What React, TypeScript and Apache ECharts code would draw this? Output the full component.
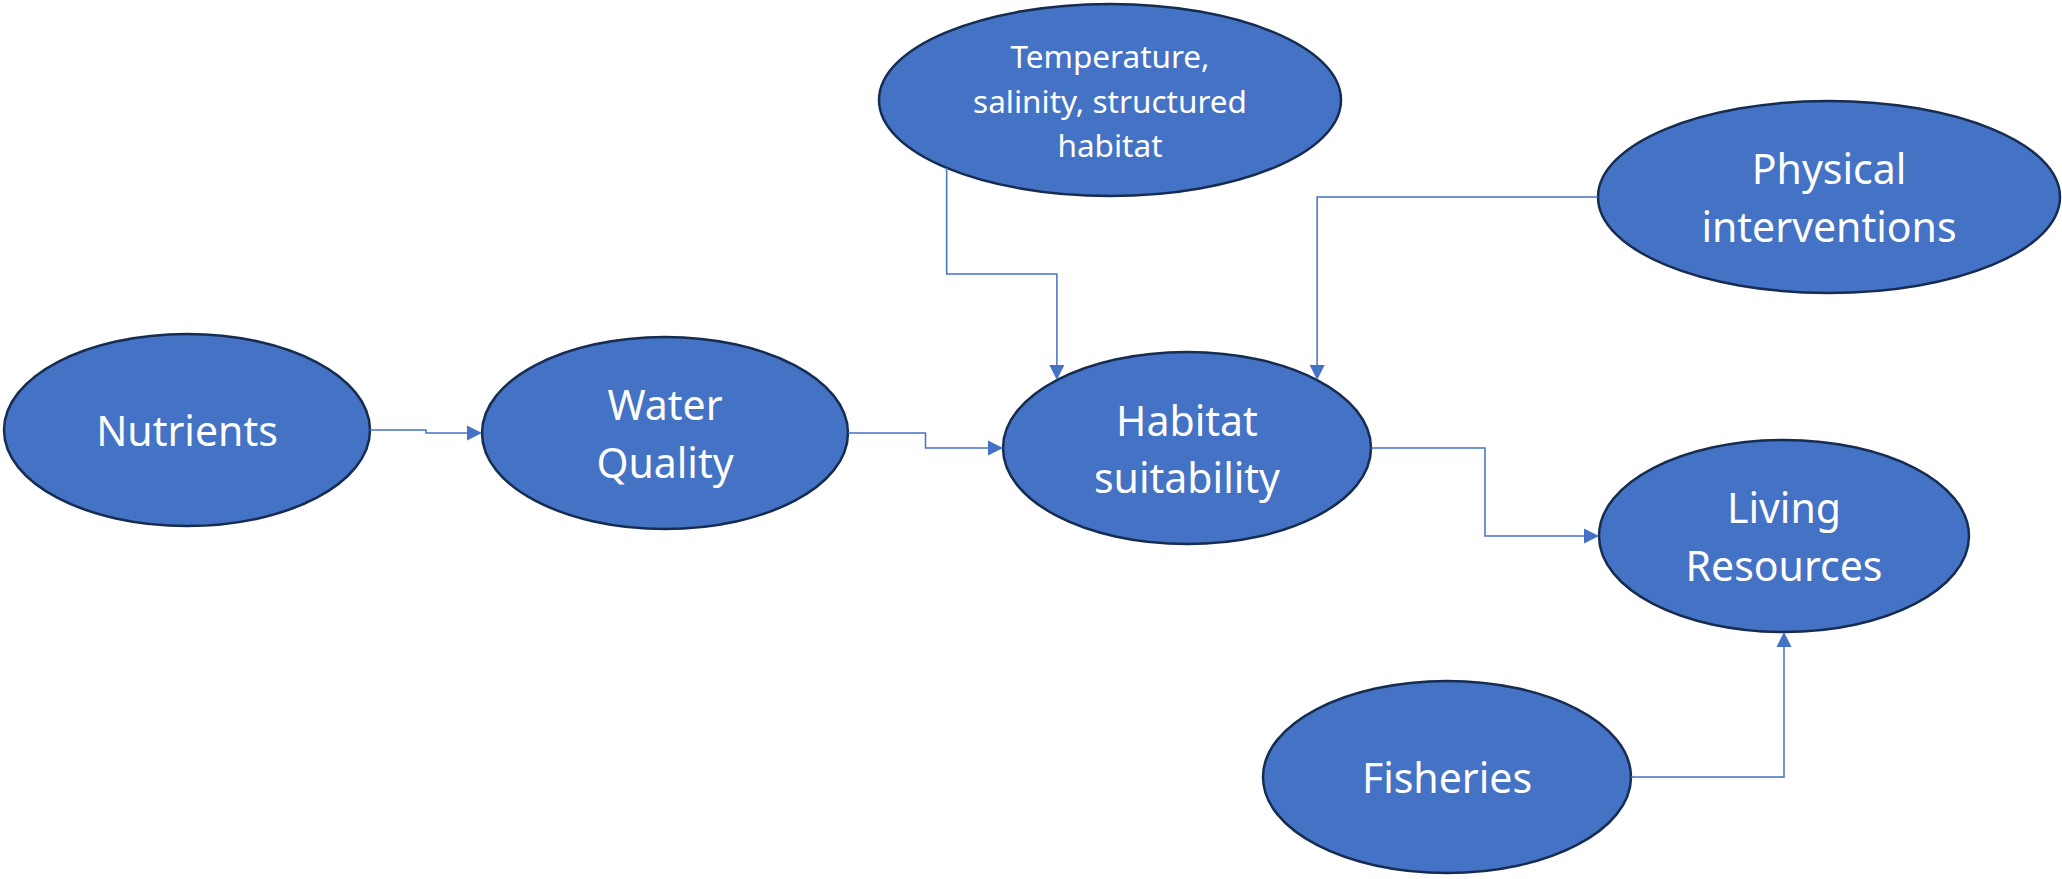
import React, { useEffect, useRef } from "react";
import * as echarts from "echarts";

// ---- diagram content ----
const nodeLabels = [
  "Nutrients",
  "Water\nQuality",
  "Temperature,\nsalinity, structured\nhabitat",
  "Habitat\nsuitability",
  "Physical\ninterventions",
  "Living\nResources",
  "Fisheries",
];

// connections (indexes into nodeLabels)
const edgeSource = [0, 1, 2, 4, 3, 6];
const edgeTarget = [1, 3, 3, 3, 5, 5];

// ---- layout (canvas units, 2062 x 879) ----
const nodeCenterX = [187, 665, 1110, 1187, 1829, 1784, 1447];
const nodeCenterY = [430, 433, 100, 448, 197, 536, 777];
const nodeRadiusX = [183, 183, 231, 184, 231, 185, 184];
const nodeRadiusY = [96, 96, 96, 96, 96, 96, 96];
const nodeFontSize = [41, 41, 31.5, 41, 41, 41, 41];
const nodeLineHeight = [58, 58, 44.5, 57, 58, 58, 58];

// connection sites in degrees (0 = right, 90 = down, 180 = left, 270 = up)
const edgeSourceSite = [0, 0, 135, 180, 0, 0];
const edgeTargetSite = [180, 180, 225, 315, 180, 90];
const edgeRoute = ["HVH", "HVH", "VHV", "HV", "HVH", "HV"];

const W = 2062;
const H = 879;

function sitePoint(i: number, deg: number): [number, number] {
  const a = (deg * Math.PI) / 180;
  const c = Math.abs(Math.cos(a)) < 1e-9 ? 0 : Math.cos(a);
  const s = Math.abs(Math.sin(a)) < 1e-9 ? 0 : Math.sin(a);
  return [nodeCenterX[i] + nodeRadiusX[i] * c, nodeCenterY[i] + nodeRadiusY[i] * s];
}

function routePoints(e: number): [number, number][] {
  const p0 = sitePoint(edgeSource[e], edgeSourceSite[e]);
  const p1 = sitePoint(edgeTarget[e], edgeTargetSite[e]);
  const r = edgeRoute[e];
  if (r === "HVH") {
    const mx = (p0[0] + p1[0]) / 2;
    return [p0, [mx, p0[1]], [mx, p1[1]], p1];
  }
  if (r === "VHV") {
    const my = (p0[1] + p1[1]) / 2;
    return [p0, [p0[0], my], [p1[0], my], p1];
  }
  return [p0, [p1[0], p0[1]], p1];
}

export default function App() {
  const ref = useRef<HTMLDivElement>(null);

  useEffect(() => {
    if (!ref.current) return;
    const chart = echarts.init(ref.current, null, { renderer: "svg" });

    const option: any = {
      animation: false,
      backgroundColor: "#ffffff",
      grid: { left: 0, right: 0, top: 0, bottom: 0 },
      xAxis: { type: "value", min: 0, max: W, show: false },
      yAxis: { type: "value", min: 0, max: H, inverse: true, show: false },
      series: [
        {
          type: "custom",
          name: "nodes",
          clip: false,
          z: 2,
          data: nodeLabels.map((_, i) => [nodeCenterX[i], nodeCenterY[i]]),
          encode: { x: 0, y: 1 },
          renderItem: (params: any, api: any) => {
            const i = params.dataIndex;
            const c = api.coord([nodeCenterX[i], nodeCenterY[i]]);
            const s = api.size([nodeRadiusX[i], nodeRadiusY[i]]);
            return {
              type: "group",
              children: [
                {
                  type: "ellipse",
                  shape: { cx: c[0], cy: c[1], rx: s[0], ry: s[1] },
                  style: { fill: "#4472C4", stroke: "#172C51", lineWidth: 2.5 },
                },
                {
                  type: "text",
                  style: {
                    text: nodeLabels[i],
                    x: c[0],
                    y: c[1],
                    align: "center",
                    verticalAlign: "middle",
                    fill: "#ffffff",
                    fontSize: nodeFontSize[i],
                    fontFamily: "Noto Sans",
                    lineHeight: nodeLineHeight[i],
                  },
                },
              ],
            };
          },
        },
        {
          type: "custom",
          name: "edges",
          clip: false,
          z: 3,
          data: edgeSource.map((s, e) => [s, edgeTarget[e]]),
          encode: { x: 0, y: 1 },
          renderItem: (params: any, api: any) => {
            const e = params.dataIndex;
            const pts = routePoints(e).map((p) => api.coord(p));
            const n = pts.length;
            const tip = pts[n - 1];
            const prev = pts[n - 2];
            const dx = tip[0] - prev[0];
            const dy = tip[1] - prev[1];
            const len = Math.sqrt(dx * dx + dy * dy) || 1;
            const ux = dx / len;
            const uy = dy / len;
            const aLen = 15;
            const aHalf = 7.5;
            const base = [tip[0] - ux * aLen, tip[1] - uy * aLen];
            const linePts = pts.slice(0, n - 1).concat([base]);
            return {
              type: "group",
              children: [
                {
                  type: "polyline",
                  shape: { points: linePts },
                  style: { stroke: "#4472C4", lineWidth: 1.5, fill: "none" },
                },
                {
                  type: "polygon",
                  shape: {
                    points: [
                      tip,
                      [base[0] - uy * aHalf, base[1] + ux * aHalf],
                      [base[0] + uy * aHalf, base[1] - ux * aHalf],
                    ],
                  },
                  style: { fill: "#4472C4", stroke: "none" },
                },
              ],
            };
          },
        },
      ],
    };

    chart.setOption(option);
    return () => {
      chart.dispose();
    };
  }, []);

  return (
    <div
      ref={ref}
      style={{ position: "absolute", left: 0, top: 0, width: W + "px", height: H + "px" }}
    />
  );
}
